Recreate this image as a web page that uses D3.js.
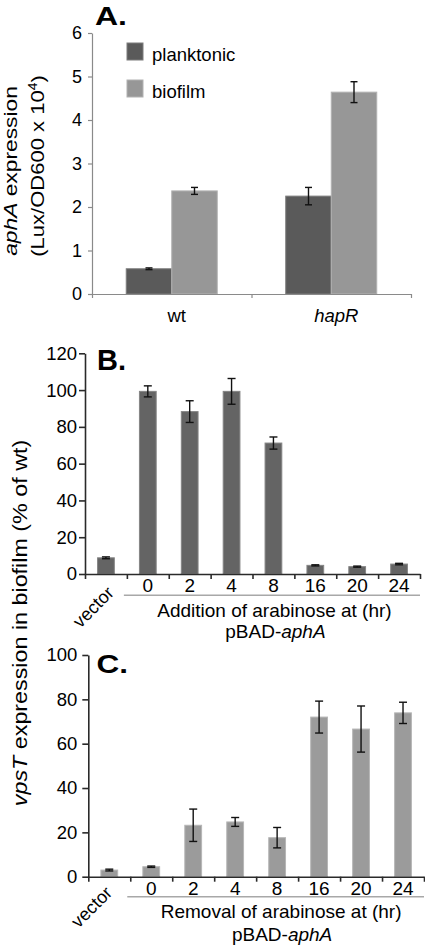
<!DOCTYPE html>
<html>
<head>
<meta charset="utf-8">
<script src="https://cdn.jsdelivr.net/npm/d3@7"></script>
<style>
  html, body { margin: 0; padding: 0; background: #fff; }
  svg { display: block; }
  text { font-family: 'Liberation Sans', Arial, Helvetica, sans-serif; fill: #000; }
</style>
</head>
<body>
<script>
// ---------------- DATA ----------------
// Panel A
const strainCategories = ["wt", "hapR"];
const growthSeries = ["planktonic", "biofilm"];
const planktonicValues = [0.58, 2.25];
const planktonicErrors = [0.02, 0.20];
const biofilmValues = [2.37, 4.64];
const biofilmErrors = [0.08, 0.24];
const panelATicks = [0, 1, 2, 3, 4, 5, 6];

// Panels B and C share categories
const timeCategories = ["vector", "0", "2", "4", "8", "16", "20", "24"];
// Panel B: addition of arabinose
const additionValues = [8.8, 99.3, 88.3, 99.3, 71.2, 4.7, 4.0, 5.4];
const additionErrors = [0.5, 3.0, 5.9, 7.0, 3.3, 0.3, 0.3, 0.4];
const panelBTicks = [0, 20, 40, 60, 80, 100, 120];
// Panel C: removal of arabinose
const removalValues = [3.0, 4.5, 23.2, 24.7, 17.6, 72.0, 66.6, 73.9];
const removalErrors = [0.4, 0.3, 7.3, 2.0, 4.6, 7.2, 10.4, 4.8];
const panelCTicks = [0, 20, 40, 60, 80, 100];

// ---------------- DRAW ----------------
const svg = d3.select("body").append("svg")
  .attr("width", 425).attr("height", 948);

function styleAxis(g, color, width, fontSize) {
  g.selectAll(".domain").attr("stroke", color).attr("stroke-width", width);
  g.selectAll(".tick line").attr("stroke", color).attr("stroke-width", width);
  g.selectAll(".tick text").attr("font-size", fontSize).attr("fill", "#000")
    .style("font-family", "'Liberation Sans', Arial, sans-serif");
}

function errorBars(g, data, xc, y, capHalf) {
  const eb = g.append("g").attr("stroke", "#111").attr("stroke-width", 1.4).attr("fill", "none");
  data.forEach(d => {
    const cx = xc(d);
    eb.append("line").attr("x1", cx).attr("x2", cx).attr("y1", y(d.v - d.e)).attr("y2", y(d.v + d.e));
    eb.append("line").attr("x1", cx - capHalf).attr("x2", cx + capHalf).attr("y1", y(d.v + d.e)).attr("y2", y(d.v + d.e));
    eb.append("line").attr("x1", cx - capHalf).attr("x2", cx + capHalf).attr("y1", y(d.v - d.e)).attr("y2", y(d.v - d.e));
  });
}

// ===== Panel A =====
(function () {
  const left = 92, right = 411, top = 33, bottom = 294;
  const y = d3.scaleLinear().domain([0, 6]).range([bottom, top]);
  const x0 = d3.scaleBand().domain(strainCategories).range([left, right]).padding(0);
  const x1 = d3.scaleBand().domain(growthSeries).range([0, x0.bandwidth()])
    .paddingInner(0).paddingOuter(0.7527);
  const colors = { planktonic: "#5a5a5a", biofilm: "#979797" };
  const strokes = { planktonic: "#7c7c7c", biofilm: "#b2b2b2" };
  const seriesVals = { planktonic: planktonicValues, biofilm: biofilmValues };
  const seriesErr = { planktonic: planktonicErrors, biofilm: biofilmErrors };

  const g = svg.append("g");
  const data = [];
  strainCategories.forEach((c, i) => growthSeries.forEach(s => data.push({ c, s, v: seriesVals[s][i], e: seriesErr[s][i] })));

  g.selectAll("rect.bar").data(data).join("rect")
    .attr("x", d => x0(d.c) + x1(d.s)).attr("width", x1.bandwidth())
    .attr("y", d => y(d.v)).attr("height", d => y(0) - y(d.v))
    .attr("fill", d => colors[d.s]).attr("stroke", d => strokes[d.s]).attr("stroke-width", 1);

  errorBars(g, data, d => x0(d.c) + x1(d.s) + x1.bandwidth() / 2, y, 3.5);

  // y axis
  const ya = g.append("g").attr("transform", `translate(${left},0)`)
    .call(d3.axisLeft(y).tickValues(panelATicks).tickSize(4).tickSizeOuter(0).tickPadding(6).tickFormat(d3.format("d")));
  styleAxis(ya, "#8a8a8a", 1.2, "18px");

  // x axis boundaries
  const xb = d3.scaleLinear().domain([0, strainCategories.length]).range([left, right]);
  const xa = g.append("g").attr("transform", `translate(0,${bottom})`)
    .call(d3.axisBottom(xb).tickValues(d3.range(strainCategories.length + 1)).tickSize(4).tickSizeOuter(0).tickFormat(""));
  styleAxis(xa, "#8a8a8a", 1.2, "18px");

  const xl = g.append("g").attr("transform", `translate(0,${bottom})`)
    .call(d3.axisBottom(x0).tickSize(0).tickPadding(15));
  xl.select(".domain").remove();
  styleAxis(xl, "#000", 0, "18.5px");
  xl.selectAll(".tick text").attr("dx", 5).style("font-style", d => d === "hapR" ? "italic" : "normal");

  // legend
  const lg = g.append("g");
  growthSeries.forEach((s, i) => {
    lg.append("rect").attr("x", 127).attr("y", 43 + i * 37).attr("width", 16).attr("height", 17)
      .attr("fill", colors[s]).attr("stroke", strokes[s]);
    lg.append("text").attr("x", 152).attr("y", 61 + i * 37).attr("font-size", "18.5px").text(s);
  });

  // title
  g.append("text").attr("x", 95).attr("y", 25).attr("font-size", "26px").attr("font-weight", "bold")
    .attr("textLength", 32).attr("lengthAdjust", "spacingAndGlyphs").text("A.");

  // y label (two lines)
  const l1 = g.append("text").attr("transform", "translate(17,171) rotate(-90) scale(1.2,1)")
    .attr("text-anchor", "middle").attr("font-size", "19px");
  l1.append("tspan").style("font-style", "italic").text("aphA");
  l1.append("tspan").text(" expression");
  const l2 = g.append("text").attr("transform", "translate(44,166) rotate(-90) scale(1.16,1)")
    .attr("text-anchor", "middle").attr("font-size", "19px");
  l2.append("tspan").text("(Lux/OD600 x 10");
  l2.append("tspan").attr("font-size", "12px").attr("dy", -7).text("4");
  l2.append("tspan").attr("dy", 7).text(")");
})();

// ===== Panels B and C =====
function timePanel(opts) {
  const { left, right, top, bottom, max, ticks, values, errors, fill, stroke, title, titleLen, titleSize, titleX, titleY,
          groupLabel, groupY, pbadY, sepY, labelPad, vecX, vecY, groupDx, tickPad } = opts;
  const y = d3.scaleLinear().domain([0, max]).range([bottom, top]);
  const x = d3.scaleBand().domain(timeCategories).range([left, right]).paddingInner(0.6).paddingOuter(0.3);
  const xb = d3.scaleLinear().domain([0, timeCategories.length]).range([left, right]);
  const g = svg.append("g");
  const data = timeCategories.map((c, i) => ({ c, v: values[i], e: errors[i] }));

  g.selectAll("rect.bar").data(data).join("rect")
    .attr("x", d => x(d.c)).attr("width", x.bandwidth())
    .attr("y", d => y(d.v)).attr("height", d => y(0) - y(d.v))
    .attr("fill", fill).attr("stroke", stroke).attr("stroke-width", 1);

  errorBars(g, data, d => x(d.c) + x.bandwidth() / 2, y, 4);

  const ya = g.append("g").attr("transform", `translate(${left},0)`)
    .call(d3.axisLeft(y).tickValues(ticks).tickSize(6).tickSizeOuter(0).tickPadding(tickPad).tickFormat(d3.format("d")));
  styleAxis(ya, "#2a2a2a", 1.6, "18.5px");

  const xa = g.append("g").attr("transform", `translate(0,${bottom})`)
    .call(d3.axisBottom(xb).tickValues(d3.range(timeCategories.length + 1)).tickSize(5).tickSizeOuter(0).tickFormat(""));
  styleAxis(xa, "#2a2a2a", 1.6, "18px");

  const xl = g.append("g").attr("transform", `translate(0,${bottom})`)
    .call(d3.axisBottom(x).tickSize(0).tickPadding(labelPad).tickFormat(d => d === "vector" ? "" : d));
  xl.select(".domain").remove();
  styleAxis(xl, "#000", 0, "19px");

  // vector label
  g.append("text").attr("text-anchor", "end").attr("font-size", "18px")
    .attr("transform", `translate(${x("vector") + x.bandwidth() / 2 + vecX},${vecY}) rotate(-45)`)
    .text(timeCategories[0]);

  // separator line
  g.append("line").attr("x1", xb(1) - 3).attr("x2", xb(timeCategories.length))
    .attr("y1", sepY).attr("y2", sepY).attr("stroke", "#a8a8a8").attr("stroke-width", 1.5);

  const cx = (xb(1) + xb(timeCategories.length)) / 2 + groupDx;
  g.append("text").attr("x", cx).attr("y", groupY).attr("text-anchor", "middle").attr("font-size", "19px").text(groupLabel);
  const pb = g.append("text").attr("x", cx + 1).attr("y", pbadY).attr("text-anchor", "middle").attr("font-size", "19px");
  pb.append("tspan").text("pBAD-");
  pb.append("tspan").style("font-style", "italic").text("aphA");

  g.append("text").attr("x", titleX).attr("y", titleY).attr("font-size", titleSize).attr("font-weight", "bold")
    .attr("textLength", titleLen).attr("lengthAdjust", "spacingAndGlyphs").text(title);
}

timePanel({
  left: 85, right: 420, top: 353.3, bottom: 574, max: 120, ticks: panelBTicks,
  values: additionValues, errors: additionErrors, fill: "#646464", stroke: "#858585",
  title: "B.", titleLen: 29, titleSize: "30px", titleX: 97, titleY: 370,
  groupLabel: "Addition of arabinose at (hr)", groupY: 616.5, pbadY: 637.5, sepY: 595.3,
  labelPad: 5, vecX: 9, vecY: 594, groupDx: 1, tickPad: 2
});

timePanel({
  left: 88.3, right: 424, top: 655, bottom: 876.7, max: 100, ticks: panelCTicks,
  values: removalValues, errors: removalErrors, fill: "#9b9b9b", stroke: "#b6b6b6",
  title: "C.", titleLen: 31.5, titleSize: "26px", titleX: 96.5, titleY: 673.3,
  groupLabel: "Removal of arabinose at (hr)", groupY: 918, pbadY: 941, sepY: 896.7,
  labelPad: 4.5, vecX: 4, vecY: 894, groupDx: 4, tickPad: 5
});

// shared y label for B and C
const lbc = svg.append("text").attr("transform", "translate(27,623) rotate(-90) scale(1.11,1)")
  .attr("text-anchor", "middle").attr("font-size", "21px");
lbc.append("tspan").style("font-style", "italic").text("vpsT");
lbc.append("tspan").text(" expression in biofilm (% of wt)");
</script>
</body>
</html>
